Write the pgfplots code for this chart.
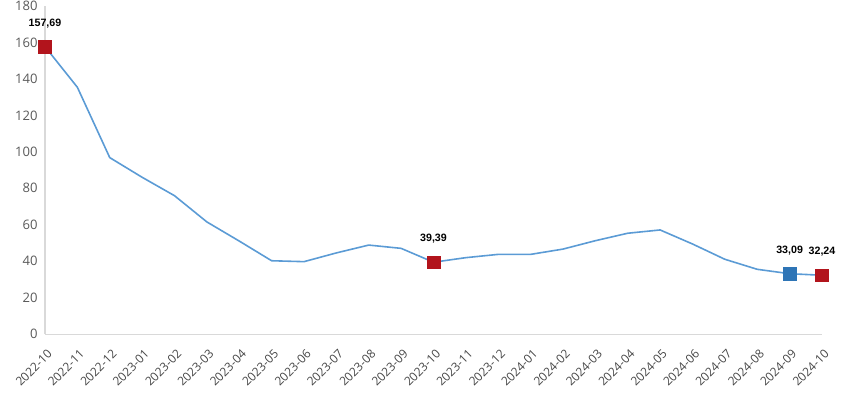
\documentclass[border=0pt]{standalone}
\usepackage{fontspec}
\setmainfont{Open Sans}
\newfontfamily\lab{Liberation Sans}
\usepackage{pgfplots}
\pgfplotsset{compat=1.18}
\definecolor{linec}{HTML}{5B9BD5}
\definecolor{redm}{HTML}{B2141C}
\definecolor{bluem}{HTML}{2E75B6}
\definecolor{axc}{HTML}{D9D9D9}
\definecolor{tickc}{HTML}{595959}
\begin{document}
\begin{tikzpicture}
\useasboundingbox (-33.75pt,-49.5pt) rectangle (603.75pt,250.5pt);
\begin{axis}[
  scale only axis, width=582.75pt, height=246pt,
  xmin=0, xmax=24, ymin=0, ymax=180,
  ytick={0,20,...,180},
  xtick={0,...,24},
  xticklabels={2022-10,2022-11,2022-12,2023-01,2023-02,2023-03,2023-04,2023-05,2023-06,2023-07,2023-08,2023-09,2023-10,2023-11,2023-12,2024-01,2024-02,2024-03,2024-04,2024-05,2024-06,2024-07,2024-08,2024-09,2024-10},
  axis lines*=left,
  axis line style={draw=axc, line width=0.75pt},
  major tick length=0pt,
  tick style={draw=none},
  clip=false,
  /pgf/number format/assume math mode=true,
  yticklabel style={font=\fontsize{9.8}{11}\selectfont, text=tickc, xshift=-2pt},
  xticklabel style={font=\fontsize{9}{11}\selectfont, text=tickc!80!black, xshift=6pt, yshift=-11pt, rotate=45, anchor=east},
  nodes near coords,
  every node near coord/.append style={font=\lab\bfseries\fontsize{8}{10}\selectfont, text=black, anchor=center, yshift=17.5pt},
]
\addplot[color=linec, line width=1.2pt, mark=none, nodes near coords=] coordinates {
(0,157.69) (1,135.4) (2,96.8) (3,86.0) (4,75.9) (5,61.5) (6,51.0) (7,40.2) (8,39.7) (9,44.5) (10,48.8) (11,47.0) (12,39.39) (13,41.9) (14,43.7) (15,43.7) (16,46.6) (17,51.2) (18,55.3) (19,57.1) (20,49.4) (21,41.0) (22,35.5) (23,33.09) (24,32.24)
};
\addplot[only marks, mark=square*, mark size=4.7pt, draw=redm, fill=redm, point meta=explicit symbolic] table[meta=lab] {
x y lab
0 157.69 157,69
12 39.39 39,39
24 32.24 32,24
};
\addplot[only marks, mark=square*, mark size=4.7pt, draw=bluem, fill=bluem, point meta=explicit symbolic] table[meta=lab] {
x y lab
23 33.09 33,09
};
\end{axis}
\end{tikzpicture}
\end{document}
